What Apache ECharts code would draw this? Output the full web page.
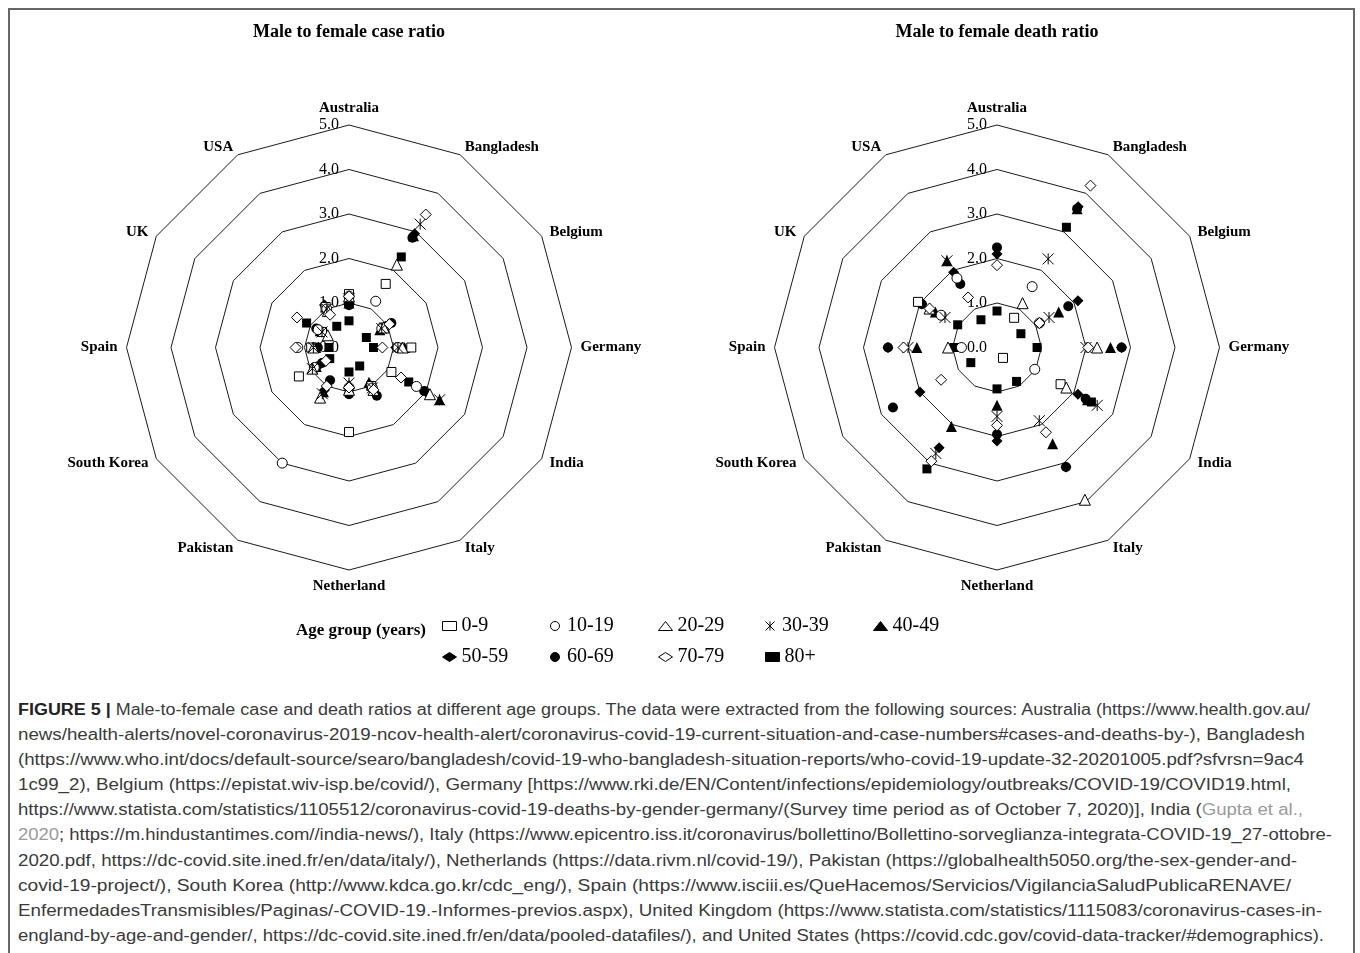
<!DOCTYPE html>
<html>
<head>
<meta charset="utf-8">
<script src="https://cdn.jsdelivr.net/npm/echarts@6/dist/echarts.min.js"></script>
<style>
html,body{margin:0;padding:0;background:#fff;width:1360px;height:953px;overflow:hidden}
#frame{position:absolute;left:8px;top:8px;width:1347px;height:1000px;border:2px solid #666;box-sizing:border-box}
#chart{position:absolute;left:0;top:0;width:1360px;height:690px}
#caption{position:absolute;left:18px;top:697px;font-family:'Liberation Sans',Arial,sans-serif;font-size:16px;color:#3a3a3a}
.ln{height:25.1px;line-height:25.1px;white-space:nowrap;transform-origin:0 50%}
.b{font-weight:bold;color:#222}
.lk{color:#9a9a9a}
</style>
</head>
<body>
<div id="frame"></div>
<div id="chart"></div>
<div id="caption">
<div class="ln"><span class="b">FIGURE 5 |</span> Male-to-female case and death ratios at different age groups. The data were extracted from the following sources: Australia (https://www.health.gov.au/</div>
<div class="ln">news/health-alerts/novel-coronavirus-2019-ncov-health-alert/coronavirus-covid-19-current-situation-and-case-numbers#cases-and-deaths-by-), Bangladesh</div>
<div class="ln">(https://www.who.int/docs/default-source/searo/bangladesh/covid-19-who-bangladesh-situation-reports/who-covid-19-update-32-20201005.pdf?sfvrsn=9ac4</div>
<div class="ln">1c99_2), Belgium (https://epistat.wiv-isp.be/covid/), Germany [https://www.rki.de/EN/Content/infections/epidemiology/outbreaks/COVID-19/COVID19.html,</div>
<div class="ln">https://www.statista.com/statistics/1105512/coronavirus-covid-19-deaths-by-gender-germany/(Survey time period as of October 7, 2020)], India (<span class="lk">Gupta et al.,</span></div>
<div class="ln"><span class="lk">2020</span>; https://m.hindustantimes.com//india-news/), Italy (https://www.epicentro.iss.it/coronavirus/bollettino/Bollettino-sorveglianza-integrata-COVID-19_27-ottobre-</div>
<div class="ln">2020.pdf, https://dc-covid.site.ined.fr/en/data/italy/), Netherlands (https://data.rivm.nl/covid-19/), Pakistan (https://globalhealth5050.org/the-sex-gender-and-</div>
<div class="ln">covid-19-project/), South Korea (http://www.kdca.go.kr/cdc_eng/), Spain (https://www.isciii.es/QueHacemos/Servicios/VigilanciaSaludPublicaRENAVE/</div>
<div class="ln">EnfermedadesTransmisibles/Paginas/-COVID-19.-Informes-previos.aspx), United Kingdom (https://www.statista.com/statistics/1115083/coronavirus-cases-in-</div>
<div class="ln">england-by-age-and-gender/, https://dc-covid.site.ined.fr/en/data/pooled-datafiles/), and United States (https://covid.cdc.gov/covid-data-tracker/#demographics).</div>
</div>
<script>
// ---------------- data ----------------
const countries = ['Australia','Bangladesh','Belgium','Germany','India','Italy','Netherland','Pakistan','South Korea','Spain','UK','USA'];
const ageGroups = ['0-9','10-19','20-29','30-39','40-49','50-59','60-69','70-79','80+'];
const radiusTicks = [0,1,2,3,4,5];

// Male to female case ratio (order follows countries)
const case0_9   = [1.2, 1.65, 0.9, 1.4, 1.1, 1.0, 1.9, null, 1.3, 0.85, 0.7, 1.05];
const case10_19 = [1.15, 1.2, 0.85, 1.1, 1.75, 1.05, 0.9, 3.0, 0.9, 1.15, 0.8, 1.0];
const case20_29 = [1.15, 2.15, 0.9, 1.2, 2.1, 1.1, 0.95, 1.3, 0.95, 0.8, 0.55, 0.95];
const case30_39 = [1.1, 3.2, 0.85, 1.1, 2.35, 1.05, 0.8, 1.2, 0.95, 0.8, 0.7, 1.0];
const case40_49 = [1.0, 2.9, 0.8, 1.25, 2.35, 0.9, 0.85, 1.15, 0.85, 0.75, 0.75, 1.05];
const case50_59 = [1.0, 2.95, 0.95, 1.05, 2.0, 1.0, 0.9, 1.1, 0.75, 0.8, 0.8, 1.1];
const case60_69 = [0.95, 2.85, 1.1, 1.1, 1.95, 1.25, 1.05, 0.85, 0.7, 0.7, 0.85, 1.05];
const case70_79 = [1.15, 3.45, 1.05, 0.75, 1.35, 1.1, 0.9, 1.0, 0.6, 1.2, 1.35, 0.85];
const case80    = [0.6, 2.35, 0.45, 0.55, 1.55, 0.48, 0.55, null, 0.5, 0.45, 1.1, 0.55];

// Male to female death ratio
const death0_9   = [null, 0.77, null, null, 1.65, 0.27, null, null, null, null, 2.05, null];
const death10_19 = [null, 1.58, 1.1, null, 0.98, null, null, null, null, 0.8, 1.45, 1.8];
const death20_29 = [null, 1.15, null, 2.25, 1.8, 3.95, null, null, null, 1.1, 1.75, null];
const death30_39 = [null, 2.3, 1.35, 2.0, 2.6, 1.9, 1.55, 2.75, null, 2.0, 1.35, 2.25];
const death40_49 = [null, 3.6, 1.6, 2.55, 2.35, 2.5, 1.3, 2.05, null, 1.8, 1.6, 2.25];
const death50_59 = [2.1, 3.65, 2.1, 2.8, 2.1, 3.1, 2.1, 2.6, 2.0, 2.45, 1.95, 1.95];
const death60_69 = [2.25, 3.6, 1.85, 2.8, 2.3, 3.1, 1.95, null, 2.7, 2.45, 1.95, 1.65];
const death70_79 = [1.85, 4.2, 1.1, 2.05, null, 2.2, 1.75, 2.95, 1.45, 2.1, 1.75, 1.3];
const death80    = [0.82, 3.12, 0.62, 0.9, 2.45, 0.88, 0.93, 3.15, 0.68, 0.97, 1.02, 0.72];

const caseRatios  = [case0_9, case10_19, case20_29, case30_39, case40_49, case50_59, case60_69, case70_79, case80];
const deathRatios = [death0_9, death10_19, death20_29, death30_39, death40_49, death50_59, death60_69, death70_79, death80];

// ---------------- styles ----------------
const STAR = 'path://M0,0L10,10M10,0L0,10M5,0L5,10';
const markers = [
  {symbol:'rect', size:9, fill:'open'},
  {symbol:'circle', size:10, fill:'open'},
  {symbol:'triangle', size:11, fill:'open'},
  {symbol:STAR, size:11, fill:'star'},
  {symbol:'triangle', size:11, fill:'solid'},
  {symbol:'diamond', size:11, fill:'solid'},
  {symbol:'circle', size:10, fill:'solid'},
  {symbol:'diamond', size:11, fill:'open'},
  {symbol:'rect', size:9, fill:'solid'}
];
function itemStyleFor(m){
  if (m.fill === 'open') return {color:'#fff', borderColor:'#000', borderWidth:1, opacity:1};
  if (m.fill === 'star') return {color:'#000', borderColor:'#000', borderWidth:1, opacity:1};
  return {color:'#000', borderColor:'#000', borderWidth:0, opacity:1};
}

const centers = [[349, 347.5], [997, 347.5]];
const R = 222.5;
const serif = "'Liberation Serif','Times New Roman',serif";

// radar indicators run counter-clockwise, the reference runs clockwise
const radarOrder = [countries[0]].concat(countries.slice(1).reverse());

const radars = centers.map(c => ({
  center: c, radius: R, startAngle: 90, shape: 'polygon', splitNumber: 5,
  indicator: radarOrder.map((n, i) => i === 0 ? {name:n, min:0, max:5, axisLabel:{show:true}} : {name:n, min:0, max:5}),
  axisName: {color:'#000', fontFamily:serif, fontWeight:'bold', fontSize:15},
  nameGap: 9,
  splitLine: {lineStyle:{color:'#1a1a1a', width:1}},
  splitArea: {show:false},
  axisLine: {show:false},
  axisTick: {show:false},
  axisLabel: {show:false, color:'#000', fontFamily:serif, fontSize:16, margin:10,
              formatter: v => Number(v).toFixed(1)}
}));

const polars = centers.map(c => ({center:c, radius:R}));
const angleAxes = centers.map((c, k) => ({polarIndex:k, type:'value', min:0, max:countries.length,
  startAngle:90, clockwise:true, show:false}));
const radiusAxes = centers.map((c, k) => ({polarIndex:k, type:'value', min:radiusTicks[0],
  max:radiusTicks[radiusTicks.length-1], show:false}));

const series = [];
[caseRatios, deathRatios].forEach((set, k) => {
  set.forEach((vals, g) => {
    const m = markers[g];
    series.push({
      type:'scatter', coordinateSystem:'polar', polarIndex:k,
      name: ageGroups[g], symbol: m.symbol, symbolSize: m.size,
      itemStyle: itemStyleFor(m),
      emphasis: {disabled:true},
      silent: true,
      z: m.fill === 'solid' ? 3 : 4,
      data: vals.map((v, i) => v == null ? null : [v, i]).filter(d => d)
    });
  });
});

// legend: one component per entry, laid out in a 5-column grid
const legendCols = [449, 557, 665, 772, 880];
const legendRows = [616, 647];
const legends = ageGroups.map((g, i) => ({
  orient:'horizontal', padding:0, itemWidth:14, itemHeight:9,
  left: legendCols[i % 5] - 7, top: legendRows[Math.floor(i / 5)],
  selectedMode:false, symbolKeepAspect:true,
  itemStyle:{borderWidth:1, borderColor:'#000'},
  textStyle:{fontFamily:serif, fontSize:20, color:'#000'},
  data:[{name:g, icon:markers[i].symbol}]
}));

const option = {
  animation:false,
  backgroundColor:'transparent',
  title:[
    {text:'Male to female case ratio', left:349, top:23, textAlign:'center', padding:0,
     textStyle:{fontFamily:serif, fontWeight:'bold', fontSize:18, color:'#000'}},
    {text:'Male to female death ratio', left:997, top:23, textAlign:'center', padding:0,
     textStyle:{fontFamily:serif, fontWeight:'bold', fontSize:18, color:'#000'}},
    {text:'Age group (years)', left:296, top:622, padding:0,
     textStyle:{fontFamily:serif, fontWeight:'bold', fontSize:17, color:'#000'}}
  ],
  radar: radars,
  polar: polars,
  angleAxis: angleAxes,
  radiusAxis: radiusAxes,
  legend: legends,
  series: series
};

const chart = echarts.init(document.getElementById('chart'), null, {renderer:'canvas'});
chart.setOption(option);

// fit each caption line to the width it has in the figure
const captionEnds = [1310, 1305, 1304, 1291, 1303, 1332, 1297, 1291, 1322, 1324];
function fitCaption(){
  const lines = document.querySelectorAll('#caption .ln');
  lines.forEach((l, i) => {
    l.style.display = 'inline-block';
    const w = l.getBoundingClientRect().width;
    l.style.display = 'block';
    l.style.transform = 'scaleX(' + ((captionEnds[i] - 18) / w) + ')';
  });
}
fitCaption();
</script>
</body>
</html>
